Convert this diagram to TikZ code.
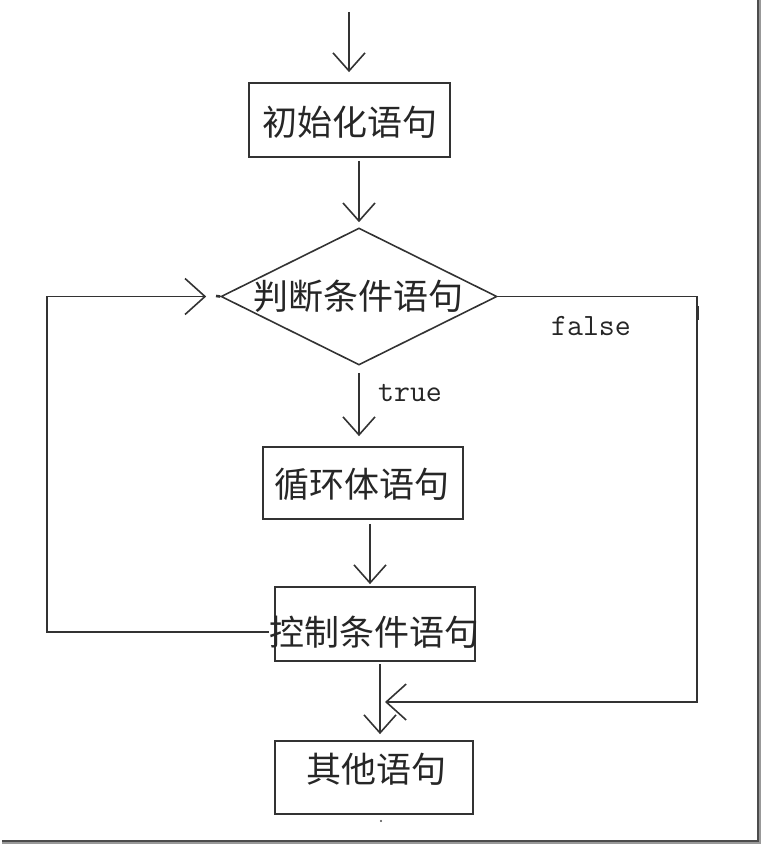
\documentclass[tikz,border=0pt]{standalone}
\usepackage{fontspec}
\newfontfamily\cjk{Noto Sans CJK SC}
\usetikzlibrary{arrows.meta,shapes.geometric}
\begin{document}
\begin{tikzpicture}[x=1pt,y=-1pt,
  ink/.style={draw=black!80},
  box/.style={ink, rectangle, line width=1.8pt, inner sep=0pt},
  decision/.style={ink, diamond, line width=1.6pt, inner sep=0pt, minimum width=276pt, minimum height=137pt},
  lbl/.style={font=\cjk\fontsize{35}{40}\selectfont, inner sep=0pt, text=black!85},
  tf/.style={font=\ttfamily\fontsize{31}{34}\selectfont, inner sep=0pt, text=black!85, anchor=base},
  conn/.style={ink, line width=1.6pt, -{Straight Barb[length=18pt,width=32pt,line width=1.6pt]}},
  bigconn/.style={ink, line width=1.6pt, -{Straight Barb[length=20pt,width=36pt,line width=1.6pt]}}
]
\useasboundingbox (0,0) rectangle (761,845);
% frame shadow
\draw[black!40, line width=1.6pt] (760,0) -- (760,843.5);
\draw[black!40, line width=1.6pt] (2,843) -- (761,843);
\draw[black!70, line width=2.2pt] (757.6,0) -- (757.6,841);
\draw[black!70, line width=2.2pt] (2,840.6) -- (758.5,840.6);

% nodes
\coordinate (start) at (349,12);
\node[box, minimum width=201pt, minimum height=74pt] (box1) at (349.5,120) {};
\node[lbl] (t1) at (350,122) {初始化语句};
\node[decision] (dia) at (359,296.5) {};
\node[lbl] (t2) at (358,296) {判断条件语句};
\node[box, minimum width=200pt, minimum height=72pt] (box2) at (363,483) {};
\node[lbl] (t3) at (362,484) {循环体语句};
\node[box, minimum width=200pt, minimum height=74pt] (box3) at (375,624) {};
\node[lbl] (t4) at (374,632) {控制条件语句};
\node[box, minimum width=198pt, minimum height=73pt] (box4) at (374,777.5) {};
\node[lbl] (t5) at (376,769) {其他语句};
\node[tf] (ltrue) at (410,401) {true};
\node[tf] (lfalse) at (591,335) {false};
\coordinate (join) at (380,702);

% connectors
\draw[conn, shorten >=10pt] (start) -- (start |- box1.north);
\draw[conn, shorten <=3pt, shorten >=5pt] (box1.south -| dia.north) -- (dia.north);
\draw[conn, shorten <=7pt, shorten >=10pt] (dia.south) -- (dia.south |- box2.north);
\draw[conn, shorten <=4pt, shorten >=2pt] ([xshift=7pt]box2.south) -- ([xshift=7pt]box2.south |- box3.north);
\draw[conn, shorten <=2pt, shorten >=6pt] (join |- box3.south) -- (join |- box4.north);
\draw[bigconn, shorten >=14pt] (t4.west) -- (47,0 |- t4.west) |- (dia.west);
\draw[ink, line width=2.6pt] (216,296) -- (dia.west);
\draw[bigconn, shorten >=5pt] (dia.east) -- (697,0 |- dia.east) -- (697,0 |- join) -- (join);
\draw[ink, line width=3pt] (697,306) -- (697,320);
\fill[black!70] (381,821) circle (1.2pt);
\end{tikzpicture}
\end{document}
